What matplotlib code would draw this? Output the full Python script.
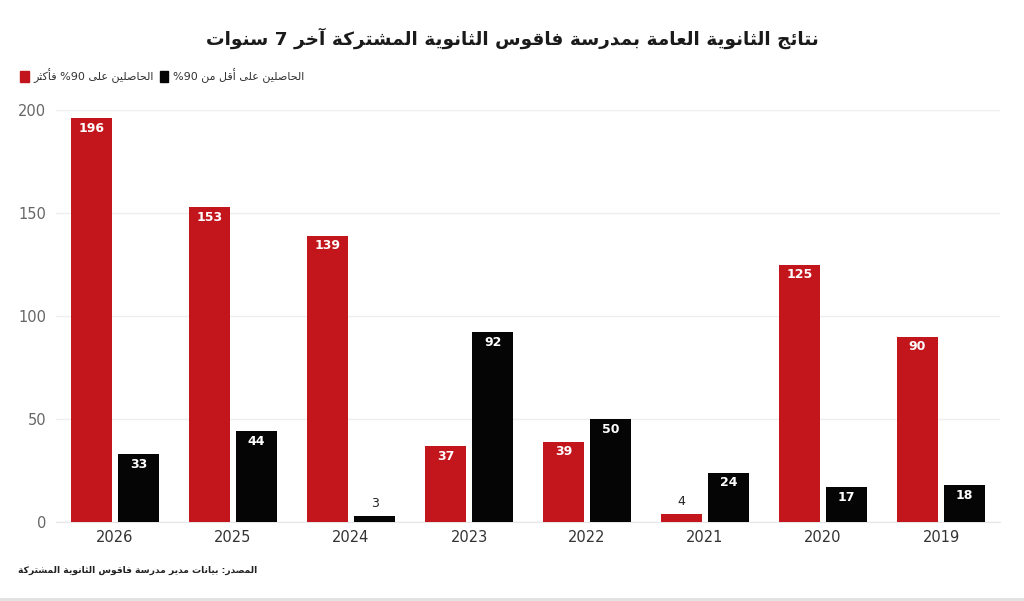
import re
import numpy as np
import matplotlib
matplotlib.use('Agg')
import matplotlib.pyplot as plt
from matplotlib.patches import Patch

# data
years = ['2026', '2025', '2024', '2023', '2022', '2021', '2020', '2019']
above90 = [196, 153, 139, 37, 39, 4, 125, 90]
below90 = [33, 44, 3, 92, 50, 24, 17, 18]

title = 'نتائج الثانوية العامة بمدرسة فاقوس الثانوية المشتركة آخر 7 سنوات'
label_above = 'الحاصلين على 90% فأكثر'
label_below = 'الحاصلين على أقل من 90%'
source = 'المصدر: بيانات مدير مدرسة فاقوس الثانوية المشتركة'
yticks = [0, 50, 100, 150, 200]

# matplotlib has no arabic shaping/bidi, so do a small one by hand
# (isolated, final, initial, medial) presentation forms
FORMS = {
    'ا': ('\uFE8D', '\uFE8E', None, None),
    'آ': ('\uFE81', '\uFE82', None, None),
    'أ': ('\uFE83', '\uFE84', None, None),
    'إ': ('\uFE87', '\uFE88', None, None),
    'ب': ('\uFE8F', '\uFE90', '\uFE91', '\uFE92'),
    'ة': ('\uFE93', '\uFE94', None, None),
    'ت': ('\uFE95', '\uFE96', '\uFE97', '\uFE98'),
    'ث': ('\uFE99', '\uFE9A', '\uFE9B', '\uFE9C'),
    'ج': ('\uFE9D', '\uFE9E', '\uFE9F', '\uFEA0'),
    'ح': ('\uFEA1', '\uFEA2', '\uFEA3', '\uFEA4'),
    'خ': ('\uFEA5', '\uFEA6', '\uFEA7', '\uFEA8'),
    'د': ('\uFEA9', '\uFEAA', None, None),
    'ذ': ('\uFEAB', '\uFEAC', None, None),
    'ر': ('\uFEAD', '\uFEAE', None, None),
    'ز': ('\uFEAF', '\uFEB0', None, None),
    'س': ('\uFEB1', '\uFEB2', '\uFEB3', '\uFEB4'),
    'ش': ('\uFEB5', '\uFEB6', '\uFEB7', '\uFEB8'),
    'ص': ('\uFEB9', '\uFEBA', '\uFEBB', '\uFEBC'),
    'ع': ('\uFEC9', '\uFECA', '\uFECB', '\uFECC'),
    'ف': ('\uFED1', '\uFED2', '\uFED3', '\uFED4'),
    'ق': ('\uFED5', '\uFED6', '\uFED7', '\uFED8'),
    'ك': ('\uFED9', '\uFEDA', '\uFEDB', '\uFEDC'),
    'ل': ('\uFEDD', '\uFEDE', '\uFEDF', '\uFEE0'),
    'م': ('\uFEE1', '\uFEE2', '\uFEE3', '\uFEE4'),
    'ن': ('\uFEE5', '\uFEE6', '\uFEE7', '\uFEE8'),
    'ه': ('\uFEE9', '\uFEEA', '\uFEEB', '\uFEEC'),
    'و': ('\uFEED', '\uFEEE', None, None),
    'ى': ('\uFEEF', '\uFEF0', None, None),
    'ي': ('\uFEF1', '\uFEF2', '\uFEF3', '\uFEF4'),
    'ئ': ('\uFE89', '\uFE8A', '\uFE8B', '\uFE8C'),
}

def ar(text):
    out = []
    for i, ch in enumerate(text):
        if ch not in FORMS:
            out.append(ch)
            continue
        prev = text[i-1] if i > 0 else ''
        nxt = text[i+1] if i < len(text)-1 else ''
        jp = prev in FORMS and FORMS[prev][2] is not None
        jn = FORMS[ch][2] is not None and nxt in FORMS
        iso, fin, ini, med = FORMS[ch]
        if jp and jn:
            out.append(med)
        elif jp:
            out.append(fin)
        elif jn:
            out.append(ini)
        else:
            out.append(iso)
    s = ''.join(out)[::-1]
    return re.sub(r'[0-9]+', lambda m: m.group(0)[::-1], s)

red = '#c3161c'
blk = '#050505'

fig = plt.figure(figsize=(10.24, 6.01), dpi=100)
ax = fig.add_axes([0.0547, 0.1314, 0.9219, 0.6856])

x = np.arange(len(years))
w = 0.35
b1 = ax.bar(x - 0.2, above90, w, color=red, zorder=3)
b2 = ax.bar(x + 0.2, below90, w, color=blk, zorder=3)

#value labels: white inside the bar, black above it when the bar is tiny
for bars, vals in [(b1, above90), (b2, below90)]:
    for r, v in zip(bars, vals):
        cx = r.get_x() + r.get_width()/2
        if v < 10:
            ax.text(cx, v + 3, str(v), ha='center', va='bottom', fontsize=9, color='#222222')
        else:
            ax.text(cx, v - 5, str(v), ha='center', va='center', fontsize=9,
                    fontweight='bold', color='white', zorder=4)

ax.set_xlim(-0.5, 7.5)
ax.set_ylim(0, 200)
ax.set_yticks(yticks)
ax.set_xticks(x)
ax.set_xticklabels(years)
ax.tick_params(axis='x', length=0, pad=6, labelsize=10.5, labelcolor='#333333')
ax.tick_params(axis='y', length=0, pad=7, labelsize=10.5, labelcolor='#666666')
ax.grid(axis='y', color='#eeeeee', linewidth=1, zorder=0)
for s in ['top', 'right', 'left']:
    ax.spines[s].set_visible(False)
ax.spines['bottom'].set_color('#e6e6e6')

fig.text(0.5, 0.937, ar(title), ha='center', va='center', fontsize=13.3,
         fontweight='bold', color='#1a1a1a')

handles = [Patch(color=red, label=ar(label_above)), Patch(color=blk, label=ar(label_below))]
fig.legend(handles=handles, loc='center left', bbox_to_anchor=(0.010, 0.874), ncol=2,
           frameon=False, fontsize=8, handlelength=0.75, handleheight=1.1,
           handletextpad=0.4, columnspacing=0.6, labelcolor='#333333')

fig.text(0.018, 0.051, ar(source), ha='left', va='center', fontsize=6.6,
         fontweight='bold', color='#222222')

fig.add_artist(plt.Line2D([0, 1], [0.003, 0.003], color='#e0e0e0', linewidth=2))

fig.savefig('out.png', dpi=100)
